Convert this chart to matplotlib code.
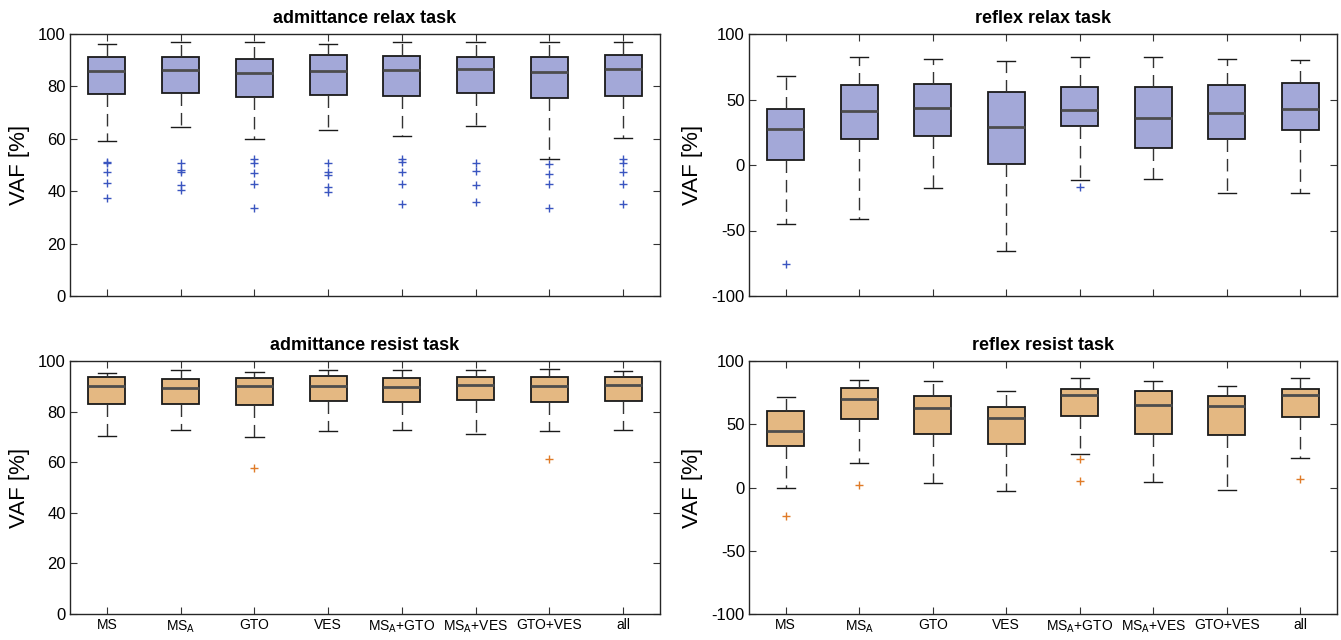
import matplotlib
matplotlib.use("Agg")
import matplotlib.pyplot as plt

plt.rcParams['font.family'] = ['Liberation Sans Narrow', 'Liberation Sans', 'DejaVu Sans']
plt.rcParams['mathtext.default'] = 'regular'

labels = ["MS", "MS$_A$", "GTO", "VES", "MS$_A$+GTO", "MS$_A$+VES", "GTO+VES", "all"]

# admittance relax task
ar_lo = [59.2, 64.5, 60.0, 63.2, 61.0, 64.8, 52.1, 60.4]
ar_q1 = [77.1, 77.5, 75.9, 76.6, 76.3, 77.5, 75.5, 76.3]
ar_med = [85.7, 86.1, 85.0, 85.7, 86.1, 86.5, 85.4, 86.5]
ar_q3 = [91.2, 91.1, 90.6, 92.0, 91.6, 91.2, 91.2, 92.1]
ar_hi = [96.2, 96.8, 96.9, 96.2, 96.9, 96.9, 96.9, 96.9]
ar_out = [[51.3, 50.7, 47.4, 43.1, 37.3],
          [50.7, 48.2, 47.5, 42.4, 40.3],
          [52.4, 50.7, 46.9, 42.9, 33.4],
          [50.7, 47.5, 46.0, 41.5, 39.7],
          [52.2, 51.1, 47.3, 42.9, 35.3],
          [50.6, 47.6, 42.3, 35.9],
          [50.3, 46.5, 42.7, 33.4],
          [52.2, 50.6, 47.4, 42.7, 35.2]]

# reflex relax task
rr_lo = [-45.2, -40.9, -17.2, -65.6, -11.6, -10.6, -21.3, -21.3]
rr_q1 = [3.7, 19.5, 22.5, 1.1, 29.7, 12.9, 20.0, 26.6]
rr_med = [27.4, 40.9, 43.2, 28.7, 41.7, 35.5, 39.9, 42.4]
rr_q3 = [42.9, 60.8, 61.5, 55.4, 59.2, 59.2, 60.8, 62.3]
rr_hi = [67.6, 82.7, 80.6, 79.4, 82.2, 82.7, 80.9, 80.4]
rr_out = [[-75.8], [], [], [], [-16.9], [], [], []]

# admittance resist task
as_lo = [70.5, 72.8, 70.1, 72.5, 72.8, 71.1, 72.2, 72.8]
as_q1 = [82.9, 83.0, 82.6, 84.2, 83.8, 84.7, 83.8, 84.2]
as_med = [90.1, 89.3, 90.3, 90.3, 89.9, 90.7, 90.3, 90.7]
as_q3 = [93.8, 93.0, 93.4, 94.2, 93.4, 93.8, 93.6, 93.8]
as_hi = [95.4, 96.6, 95.8, 96.4, 96.6, 96.6, 96.7, 96.2]
as_out = [[], [], [57.9], [], [], [], [61.3], []]

# reflex resist task
rs_lo = [0.0, 19.2, 3.4, -2.6, 26.3, 4.5, -2.1, 23.2]
rs_q1 = [33.2, 54.2, 42.4, 34.5, 56.6, 42.1, 41.3, 55.5]
rs_med = [45.0, 70.0, 63.2, 55.0, 73.4, 65.5, 64.5, 73.2]
rs_q3 = [60.3, 78.9, 72.6, 63.4, 77.6, 76.6, 72.6, 77.9]
rs_hi = [71.6, 85.0, 84.2, 76.1, 86.3, 84.2, 80.5, 86.8]
rs_out = [[-22.6], [1.6], [], [], [22.6, 5.0], [], [], [6.6]]

BLUE_FACE = "#a3a8d8"
BLUE_OUT = "#3a55c0"
ORANGE_FACE = "#e4b882"
ORANGE_OUT = "#e07b28"


def make_stats(lo, q1, med, q3, hi, out):
    return [dict(whislo=a, q1=b, med=c, q3=d, whishi=e, fliers=f)
            for a, b, c, d, e, f in zip(lo, q1, med, q3, hi, out)]


def draw_panel(ax, stats, face, outcol, ylim, yticks, title, show_x):
    ax.bxp(stats, positions=range(1, 9), widths=0.5, capwidths=0.25,
           patch_artist=True, showfliers=True,
           boxprops=dict(facecolor=face, edgecolor="#1a1a1a", linewidth=1.3),
           medianprops=dict(color="#4d4d4d", linewidth=2),
           whiskerprops=dict(color="#333333", linewidth=1, linestyle=(0, (9, 5))),
           capprops=dict(color="#1a1a1a", linewidth=1),
           flierprops=dict(marker="+", markeredgecolor=outcol, markersize=6,
                           markeredgewidth=1, linestyle="none"))
    ax.set_xlim(0.5, 8.5)
    ax.set_ylim(*ylim)
    ax.set_yticks(yticks)
    ax.set_yticklabels([str(t) for t in yticks], fontsize=12)
    ax.set_xticks(range(1, 9))
    if show_x:
        ax.set_xticklabels(labels, fontsize=10)
    else:
        ax.set_xticklabels([])
    ax.tick_params(direction="in", top=True, right=True, length=5,
                   color="#333333", pad=3)
    for s in ax.spines.values():
        s.set_color("#262626")
        s.set_linewidth(1)
    ax.set_ylabel("VAF [%]", fontsize=16, labelpad=6)
    ax.set_title(title, fontsize=13, fontweight="bold", pad=8)


fig = plt.figure(figsize=(13.41, 6.4), dpi=100)
W, H = 1341.0, 640.0
ax1 = fig.add_axes([70 / W, 1 - 296 / H, 590 / W, 262 / H])
ax2 = fig.add_axes([749 / W, 1 - 296 / H, 588 / W, 262 / H])
ax3 = fig.add_axes([70 / W, 1 - 614 / H, 590 / W, 253 / H])
ax4 = fig.add_axes([749 / W, 1 - 614 / H, 588 / W, 253 / H])

draw_panel(ax1, make_stats(ar_lo, ar_q1, ar_med, ar_q3, ar_hi, ar_out),
           BLUE_FACE, BLUE_OUT, (0, 100), [0, 20, 40, 60, 80, 100],
           "admittance relax task", False)
draw_panel(ax2, make_stats(rr_lo, rr_q1, rr_med, rr_q3, rr_hi, rr_out),
           BLUE_FACE, BLUE_OUT, (-100, 100), [-100, -50, 0, 50, 100],
           "reflex relax task", False)
draw_panel(ax3, make_stats(as_lo, as_q1, as_med, as_q3, as_hi, as_out),
           ORANGE_FACE, ORANGE_OUT, (0, 100), [0, 20, 40, 60, 80, 100],
           "admittance resist task", True)
draw_panel(ax4, make_stats(rs_lo, rs_q1, rs_med, rs_q3, rs_hi, rs_out),
           ORANGE_FACE, ORANGE_OUT, (-100, 100), [-100, -50, 0, 50, 100],
           "reflex resist task", True)

fig.savefig("out.png", dpi=100)
